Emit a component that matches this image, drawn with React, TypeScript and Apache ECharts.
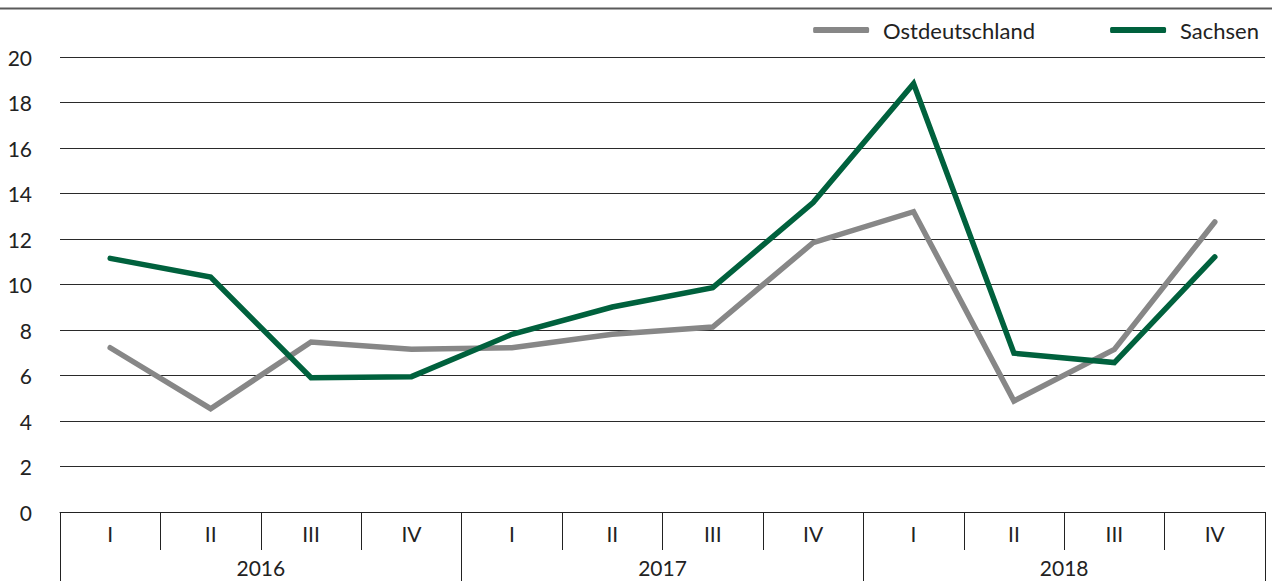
import React, { useEffect, useRef } from "react";
import * as echarts from "echarts";

const years = ["2016", "2017", "2018"];
const quarters = ["I", "II", "III", "IV"];
const yTicks = { min: 0, max: 20, interval: 2 };
const seriesNames = ["Ostdeutschland", "Sachsen"];
const ostdeutschland = [7.22, 4.54, 7.47, 7.15, 7.22, 7.81, 8.13, 11.84, 13.2, 4.88, 7.15, 12.75];
const sachsen = [11.15, 10.33, 5.9, 5.95, 7.81, 9.01, 9.86, 13.6, 18.83, 6.98, 6.57, 11.21];

const FONT = "Lato, sans-serif";

export default function App() {
  const ref = useRef<HTMLDivElement>(null);
  useEffect(() => {
    if (!ref.current) return;
    const chart = echarts.init(ref.current, undefined, { renderer: "svg" });
    const cats = years.flatMap((y) => quarters.map((q) => `${y}-${q}`));
    chart.setOption({
      animation: false,
      textStyle: { fontFamily: FONT },
      grid: { left: 60, right: 7, top: 57, bottom: 69, containLabel: false },
      legend: {
        right: 8,
        top: 14,
        itemWidth: 56,
        itemHeight: 6,
        itemGap: 75,
        icon: "roundRect",
        textStyle: { fontFamily: FONT, fontSize: 22, color: "#222", padding: [0, 0, 0, 9] },
        data: seriesNames,
      },
      graphic: [
        {
          type: "line",
          shape: { x1: 0, y1: 8.5, x2: 1272, y2: 8.5 },
          style: { stroke: "#5a5a5a", lineWidth: 2 },
        },
      ],
      xAxis: [
        {
          type: "category",
          data: cats,
          boundaryGap: true,
          axisLine: { show: true, lineStyle: { color: "#222", width: 1 } },
          axisTick: { show: true, interval: 0, length: 38, lineStyle: { color: "#222", width: 1 } },
          axisLabel: {
            interval: 0,
            margin: 11,
            fontFamily: FONT,
            fontSize: 21,
            color: "#222",
            formatter: (v: string) => v.split("-")[1],
          },
          splitLine: { show: false },
        },
        {
          type: "category",
          data: years,
          position: "bottom",
          offset: 0,
          boundaryGap: true,
          axisLine: { show: false },
          axisTick: { show: true, interval: 0, length: 70, lineStyle: { color: "#222", width: 1 } },
          axisLabel: { interval: 0, margin: 45, fontFamily: FONT, fontSize: 21, color: "#222" },
          splitLine: { show: false },
        },
      ],
      yAxis: {
        type: "value",
        min: yTicks.min,
        max: yTicks.max,
        interval: yTicks.interval,
        axisLine: { show: false },
        axisTick: { show: false },
        axisLabel: { margin: 28, fontFamily: FONT, fontSize: 21, color: "#222" },
        splitLine: { show: true, lineStyle: { color: "#2a2a2a", width: 1 } },
      },
      series: [
        {
          name: seriesNames[0],
          type: "line",
          xAxisIndex: 0,
          data: ostdeutschland,
          symbol: "none",
          color: "#878787",
          lineStyle: { width: 5.5, color: "#878787", cap: "round", join: "miter" },
        },
        {
          name: seriesNames[1],
          type: "line",
          xAxisIndex: 0,
          data: sachsen,
          symbol: "none",
          color: "#00613d",
          lineStyle: { width: 5.5, color: "#00613d", cap: "round", join: "miter" },
        },
      ],
    });
    return () => chart.dispose();
  }, []);
  return (
    <div
      ref={ref}
      style={{ position: "fixed", left: 0, top: 0, width: 1272, height: 581, background: "#fff" }}
    />
  );
}
